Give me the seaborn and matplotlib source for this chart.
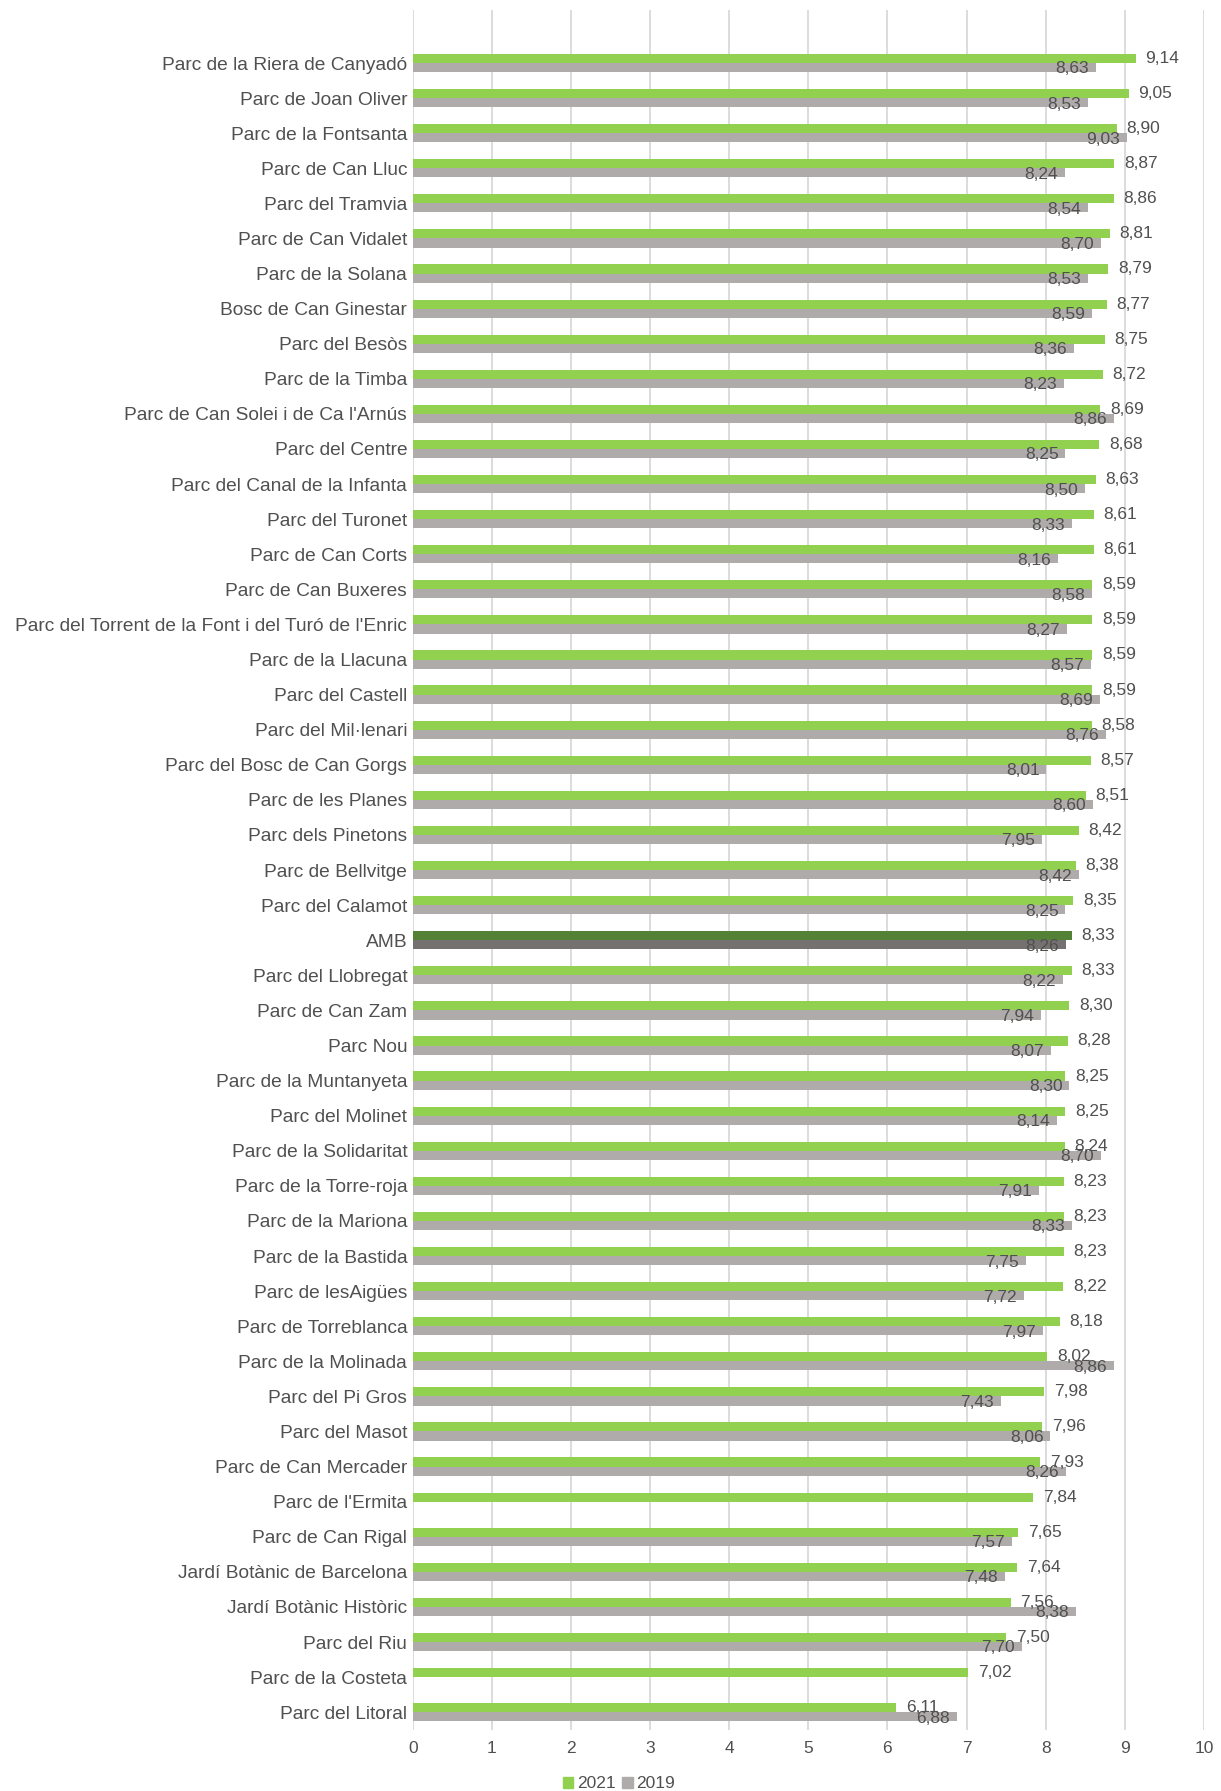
import numpy as np
import pandas as pd
import seaborn as sns
import matplotlib.pyplot as plt

sns.set_style('white')
plt.rcParams['font.family'] = ['Liberation Sans', 'DejaVu Sans']

parks = ["Parc de la Riera de Canyadó", "Parc de Joan Oliver", "Parc de la Fontsanta",
         "Parc de Can Lluc", "Parc del Tramvia", "Parc de Can Vidalet", "Parc de la Solana",
         "Bosc de Can Ginestar", "Parc del Besòs", "Parc de la Timba",
         "Parc de Can Solei i de Ca l'Arnús", "Parc del Centre", "Parc del Canal de la Infanta",
         "Parc del Turonet", "Parc de Can Corts", "Parc de Can Buxeres",
         "Parc del Torrent de la Font i del Turó de l'Enric", "Parc de la Llacuna",
         "Parc del Castell", "Parc del Mil·lenari", "Parc del Bosc de Can Gorgs",
         "Parc de les Planes", "Parc dels Pinetons", "Parc de Bellvitge", "Parc del Calamot",
         "AMB", "Parc del Llobregat", "Parc de Can Zam", "Parc Nou", "Parc de la Muntanyeta",
         "Parc del Molinet", "Parc de la Solidaritat", "Parc de la Torre-roja",
         "Parc de la Mariona", "Parc de la Bastida", "Parc de lesAigües",
         "Parc de Torreblanca", "Parc de la Molinada", "Parc del Pi Gros", "Parc del Masot",
         "Parc de Can Mercader", "Parc de l'Ermita", "Parc de Can Rigal",
         "Jardí Botànic de Barcelona", "Jardí Botànic Històric", "Parc del Riu",
         "Parc de la Costeta", "Parc del Litoral"]

v2021 = [9.14, 9.05, 8.90, 8.87, 8.86, 8.81, 8.79, 8.77, 8.75, 8.72,
         8.69, 8.68, 8.63, 8.61, 8.61, 8.59, 8.59, 8.59, 8.59, 8.58,
         8.57, 8.51, 8.42, 8.38, 8.35, 8.33, 8.33, 8.30, 8.28, 8.25,
         8.25, 8.24, 8.23, 8.23, 8.23, 8.22, 8.18, 8.02, 7.98, 7.96,
         7.93, 7.84, 7.65, 7.64, 7.56, 7.50, 7.02, 6.11]

v2019 = [8.63, 8.53, 9.03, 8.24, 8.54, 8.70, 8.53, 8.59, 8.36, 8.23,
         8.86, 8.25, 8.50, 8.33, 8.16, 8.58, 8.27, 8.57, 8.69, 8.76,
         8.01, 8.60, 7.95, 8.42, 8.25, 8.26, 8.22, 7.94, 8.07, 8.30,
         8.14, 8.70, 7.91, 8.33, 7.75, 7.72, 7.97, 8.86, 7.43, 8.06,
         8.26, np.nan, 7.57, 7.48, 8.38, 7.70, np.nan, 6.88]

years = ['2021', '2019']
colors = {'2021': '#92D050', '2019': '#AFABAB'}
hl_colors = {'2021': '#538135', '2019': '#767171'}
txt_col = '#505050'

df = pd.DataFrame({'park': parks * 2,
                   'year': ['2021'] * len(parks) + ['2019'] * len(parks),
                   'value': v2021 + v2019})

fig = plt.figure(figsize=(12.21, 17.91), dpi=100)
ax = fig.add_axes([0.338, 0.034, 0.648, 0.9604])

sns.barplot(data=df, y='park', x='value', hue='year', hue_order=years,
            palette=colors, saturation=1, orient='h', width=0.52, dodge=True,
            linewidth=0, legend=False, ax=ax)

# highlight the AMB average
i_amb = parks.index('AMB')
for cont, yr in zip(ax.containers, years):
    cont.patches[i_amb].set_facecolor(hl_colors[yr])

# value labels
for cont, yr in zip(ax.containers, years):
    for p in cont.patches:
        w = p.get_width()
        if np.isnan(w) or w == 0:
            continue
        yc = p.get_y() + p.get_height() / 2
        txt = f"{w:.2f}".replace('.', ',')
        if yr == '2021':
            ax.annotate(txt, (w, yc), xytext=(7, 0), textcoords='offset points',
                        ha='left', va='center', fontsize=12.5, color=txt_col)
        else:
            ax.annotate(txt, (w, yc), xytext=(-5, -1), textcoords='offset points',
                        ha='right', va='center', fontsize=12.5, color=txt_col)

ax.set_xlim(0, 10)
ax.set_ylim(len(parks) - 0.49, -1.51)
ax.set_xticks(range(0, 11))
ax.xaxis.grid(True, color='#D9D9D9', linewidth=1.3)
ax.set_axisbelow(True)
sns.despine(ax=ax, left=True, bottom=True)
ax.set_xlabel('')
ax.set_ylabel('')
ax.tick_params(axis='y', length=0, pad=4, labelsize=13.8, labelcolor=txt_col)
ax.tick_params(axis='x', length=0, pad=8, labelsize=12.5, labelcolor=txt_col)

handles = [plt.Rectangle((0, 0), 1, 1, color=colors[y]) for y in years]
fig.legend(handles, years, loc='lower center', bbox_to_anchor=(0.507, -0.009), ncol=2,
           frameon=False, fontsize=12.5, handlelength=0.6, handleheight=0.6,
           handletextpad=0.2, columnspacing=0.4, labelcolor=txt_col)

fig.savefig('out.png', dpi=100)
